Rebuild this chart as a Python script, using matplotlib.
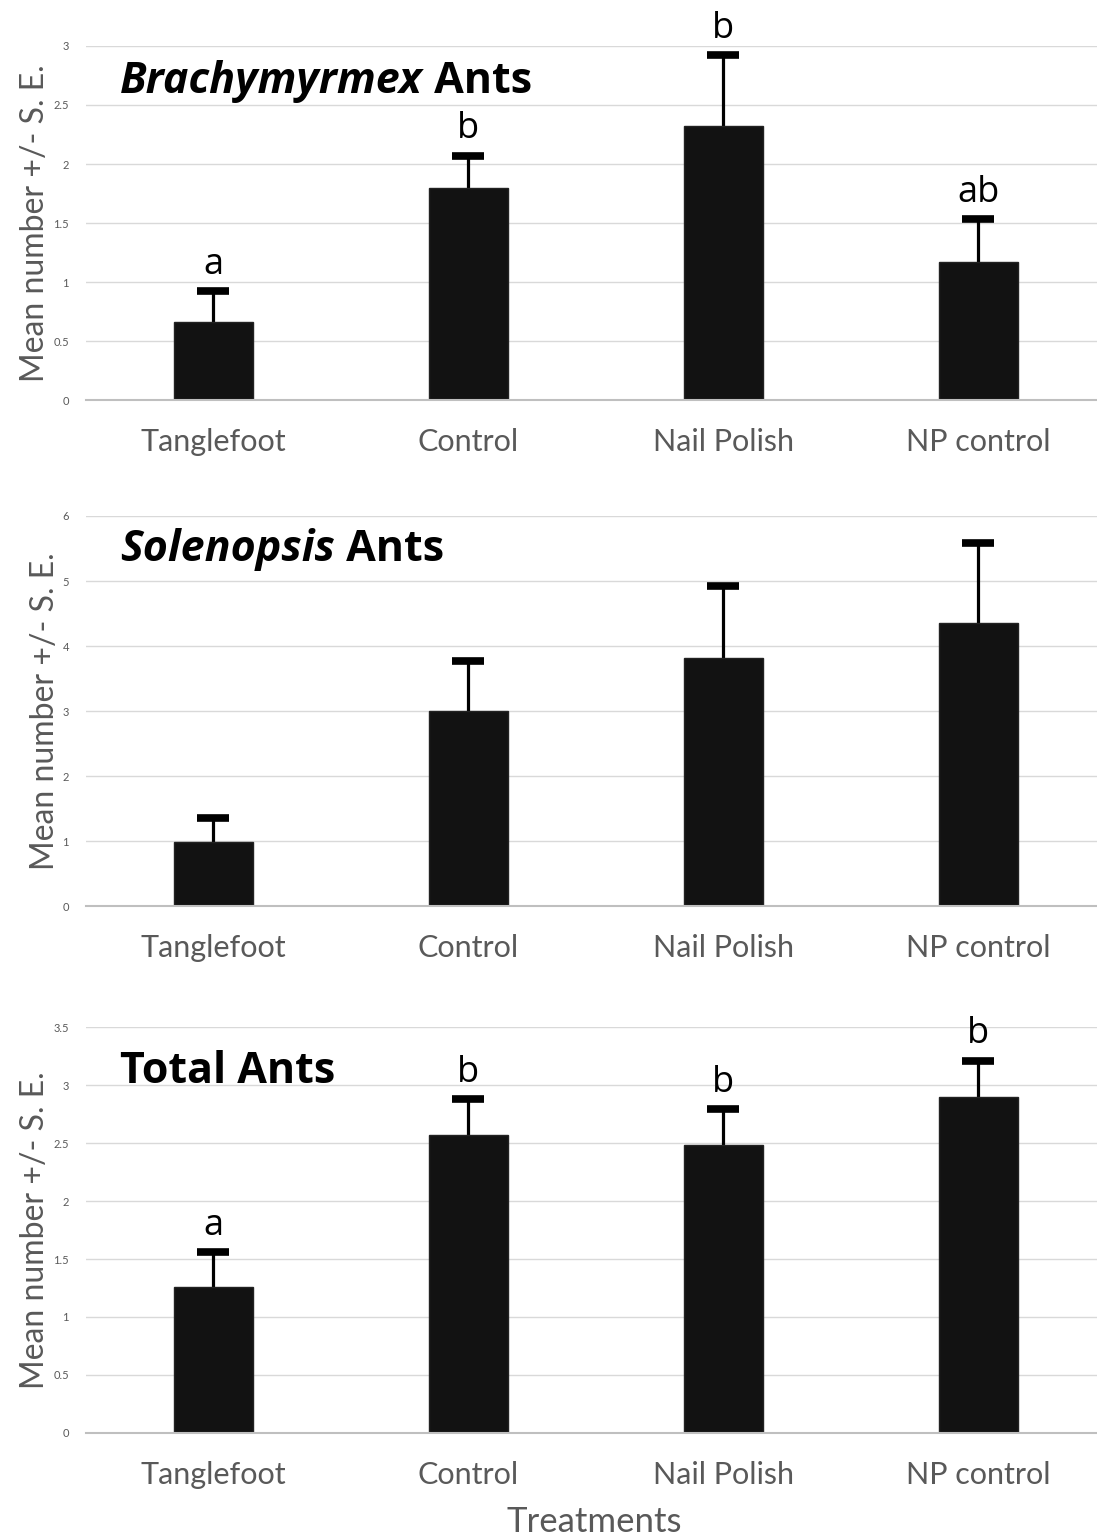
import matplotlib
matplotlib.use("Agg")
import matplotlib.pyplot as plt
import numpy as np

plt.rcParams['font.family'] = ['Lato', 'DejaVu Sans']

categories = ["Tanglefoot", "Control", "Nail Polish", "NP control"]

brachy_mean = [0.66, 1.80, 2.32, 1.17]
brachy_se = [0.26, 0.27, 0.60, 0.36]
brachy_letters = ["a", "b", "b", "ab"]

soleno_mean = [0.98, 3.00, 3.82, 4.35]
soleno_se = [0.38, 0.77, 1.10, 1.23]
soleno_letters = ["", "", "", ""]

total_mean = [1.26, 2.57, 2.48, 2.90]
total_se = [0.30, 0.31, 0.31, 0.31]
total_letters = ["a", "b", "b", "b"]

panels = [
    dict(mean=brachy_mean, se=brachy_se, letters=brachy_letters, ymax=3, step=0.5,
         title_it="Brachymyrmex", title_rest=" Ants", ty=0.9,
         rect=[0.078, 0.7399, 0.93, 0.2302], ticklabels=["0", "0.5", "1", "1.5", "2", "2.5", "3"]),
    dict(mean=soleno_mean, se=soleno_se, letters=soleno_letters, ymax=6, step=1,
         title_it="Solenopsis", title_rest=" Ants", ty=0.915,
         rect=[0.078, 0.4109, 0.93, 0.2536], ticklabels=["0", "1", "2", "3", "4", "5", "6"]),
    dict(mean=total_mean, se=total_se, letters=total_letters, ymax=3.5, step=0.5,
         title_it=None, title_rest="Total Ants", ty=0.89,
         rect=[0.078, 0.0683, 0.93, 0.2639],
         ticklabels=["0", "0.5", "1", "1.5", "2", "2.5", "3", "3.5"]),
]

fig = plt.figure(figsize=(10.97, 15.38), dpi=100)
grey = "#595959"
x = np.arange(len(categories))
tfam = ["Open Sans", "DejaVu Sans"]

for p in panels:
    ax = fig.add_axes(p["rect"])
    mean = np.array(p["mean"])
    se = np.array(p["se"])
    ax.bar(x, mean, width=0.31, color="#121212", edgecolor="#222222", zorder=3)
    ax.vlines(x, mean - se, mean + se, color="black", lw=2.3, zorder=2.5)
    ax.plot(x, mean + se, ls="none", marker="_", markersize=23, mew=5.5,
            color="black", zorder=4)
    for xi, m, s, l in zip(x, mean, se, p["letters"]):
        if l:
            ax.annotate(l, xy=(xi, m + s), xytext=(0, 6), textcoords="offset points",
                        ha="center", va="bottom", fontsize=26, color="black",
                        family=tfam)
    ax.set_xlim(-0.5, 3.5)
    ax.set_ylim(0, p["ymax"])
    ticks = np.arange(0, p["ymax"] + 1e-9, p["step"])
    ax.set_yticks(ticks)
    ax.set_yticklabels(p["ticklabels"], fontsize=8, color=grey)
    ax.set_xticks(x)
    ax.set_xticklabels(categories, fontsize=22, color=grey)
    ax.tick_params(axis="both", length=0)
    ax.tick_params(axis="x", pad=20)
    ax.tick_params(axis="y", pad=12)
    ax.grid(axis="y", color="#d9d9d9", lw=1, zorder=0)
    ax.set_axisbelow(True)
    for sp in ["top", "right", "left"]:
        ax.spines[sp].set_visible(False)
    ax.spines["bottom"].set_color("#bfbfbf")
    ax.spines["bottom"].set_linewidth(1.5)
    ax.spines["bottom"].set_zorder(5)
    ax.set_ylabel("Mean number +/- S. E.", fontsize=23, color=grey, labelpad=2)
    if p["title_it"]:
        t1 = ax.text(0.034, p["ty"], p["title_it"], transform=ax.transAxes,
                     fontsize=31, fontweight="bold", fontstyle="italic",
                     ha="left", va="center", family=tfam)
        ax.annotate(p["title_rest"], xy=(1, 0), xycoords=t1, ha="left", va="bottom",
                    fontsize=31, fontweight="bold", family=tfam)
    else:
        ax.text(0.034, p["ty"], p["title_rest"], transform=ax.transAxes,
                fontsize=31, fontweight="bold", ha="left", va="center",
                family=tfam)

fig.text(0.542, 0.0, "Treatments", fontsize=25, color=grey, ha="center", va="bottom")

fig.savefig("out.png", dpi=100)
